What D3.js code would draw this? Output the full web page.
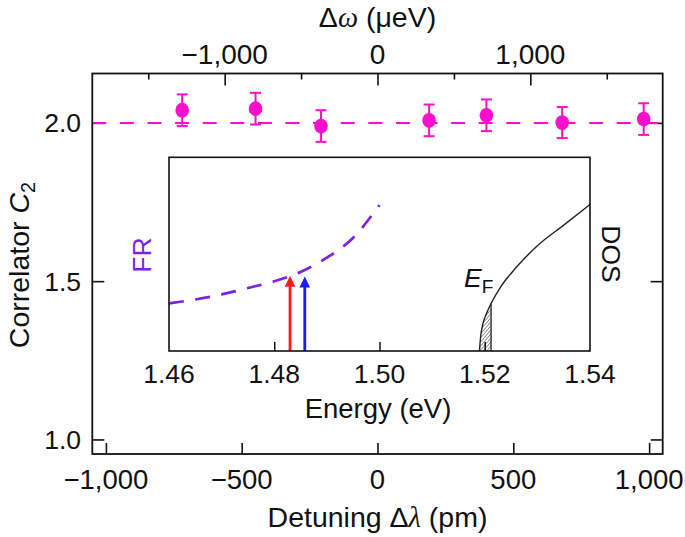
<!DOCTYPE html>
<html><head><meta charset="utf-8">
<script src="https://cdn.jsdelivr.net/npm/d3@7"></script>
<style>
body{margin:0;background:#fff}
svg{display:block}
text{font-family:"Liberation Sans",Arial,Helvetica,sans-serif;fill:#111}
</style>
</head><body><div id="chart"></div>
<script>
// ---------- data ----------
const detuningTicks = [-1000, -500, 0, 500, 1000];
const energyMajorTicks = [-1000, 0, 1000];
const energyMinorTicks = [-1500, -500, 500, 1500];
const c2Ticks = [1.0, 1.5, 2.0];
const detuning = [-719, -449, -208, 190, 401, 680, 980];
const c2 = [2.040, 2.045, 1.990, 2.008, 2.024, 2.001, 2.012];
const c2Err = [0.050, 0.050, 0.050, 0.050, 0.050, 0.049, 0.050];
const c2Reference = 2.0;

const insetTicks = [1.46, 1.48, 1.50, 1.52, 1.54];
const frEnergy = [1.460, 1.465, 1.470, 1.475, 1.480, 1.485, 1.490, 1.495, 1.500];
const frValue  = [0.246, 0.266, 0.292, 0.325, 0.360, 0.408, 0.482, 0.585, 0.754];
const dosEnergy = [1.5190, 1.5192, 1.5196, 1.5202, 1.5212, 1.5230, 1.5260, 1.5300, 1.5350, 1.5400];
const dosValue  = [0.000, 0.070, 0.135, 0.185, 0.245, 0.330, 0.432, 0.543, 0.650, 0.756];
const fermiEnergy = 1.5212;
const pumpEnergy = [1.4830, 1.4858];
const pumpTop = [0.388, 0.384];
const pumpColor = ["#ff1a1a", "#1a1aff"];

// ---------- layout ----------
const W = 685, H = 537;
const pink = "#fb0fcc", purple = "#7c22e4", ink = "#111";

const svg = d3.select("#chart").append("svg").attr("width", W).attr("height", H);

const x = d3.scaleLinear().domain([-1050, 1050]).range([92.3, 662.7]);
const xTop = d3.scaleLinear().domain([-1866, 1866]).range([92.3, 662.7]);
const y = d3.scaleLinear().domain([0.954, 2.156]).range([454, 73.5]);

const xi = d3.scaleLinear().domain([1.46, 1.54]).range([169, 590]);
const yi = d3.scaleLinear().domain([0, 1]).range([351, 157.3]);

function label(parent, px, py, str, anchor, size, rot) {
  const t = parent.append("text")
    .attr("transform", `translate(${px},${py})` + (rot ? ` rotate(${rot})` : ""))
    .attr("text-anchor", anchor || "middle")
    .style("font-size", size + "px");
  if (str !== null) t.text(str);
  return t;
}

// ---------- main frame & axes ----------
const [x0, x1] = x.range();
const [yb, yt] = y.range();

function ticksOnly(g) {
  g.select(".domain").remove();
  g.selectAll("line").attr("stroke", ink).attr("stroke-width", 1.6);
}
svg.append("g").attr("transform", `translate(0,${yb})`)
  .call(d3.axisBottom(x).tickValues(detuningTicks).tickSizeInner(-11).tickSizeOuter(0).tickFormat(""))
  .call(ticksOnly);
svg.append("g").attr("transform", `translate(0,${yt})`)
  .call(d3.axisTop(xTop).tickValues(energyMajorTicks).tickSizeInner(-12).tickSizeOuter(0).tickFormat(""))
  .call(ticksOnly);
svg.append("g").attr("transform", `translate(0,${yt})`)
  .call(d3.axisTop(xTop).tickValues(energyMinorTicks).tickSizeInner(-6).tickSizeOuter(0).tickFormat(""))
  .call(ticksOnly);
svg.append("g").attr("transform", `translate(${x0},0)`)
  .call(d3.axisLeft(y).tickValues(c2Ticks).tickSizeInner(-12).tickSizeOuter(0).tickFormat(""))
  .call(ticksOnly);
svg.append("g").attr("transform", `translate(${x1},0)`)
  .call(d3.axisRight(y).tickValues(c2Ticks).tickSizeInner(-12).tickSizeOuter(0).tickFormat(""))
  .call(ticksOnly);

// tick labels
const fmtK = d3.format(",");
detuningTicks.forEach(v => label(svg, x(v), 489, fmtK(v), "middle", 27.5));
energyMajorTicks.forEach(v => label(svg, xTop(v), 64, fmtK(v), "middle", 28));
c2Ticks.forEach(v => label(svg, 81, y(v) + 9.5, d3.format(".1f")(v), "end", 26.5));

// axis titles
const TS = 28.5;
const tTop = label(svg, 377.5, 27, null, "middle", TS);
tTop.append("tspan").text("\u0394");
tTop.append("tspan").text("\u03C9").style("font-family", "'Liberation Serif',serif").style("font-style", "italic");
tTop.append("tspan").text(" (\u03BCeV)");

const tBot = label(svg, 377.5, 527, null, "middle", TS);
tBot.append("tspan").text("Detuning \u0394");
tBot.append("tspan").text("\u03BB").style("font-family", "'Liberation Serif',serif").style("font-style", "italic");
tBot.append("tspan").text(" (pm)");

const tLeft = label(svg, 29, 265, null, "middle", TS, -90);
tLeft.append("tspan").text("Correlator ");
tLeft.append("tspan").text("C").style("font-style", "italic");
tLeft.append("tspan").text("2").attr("dy", 6).style("font-size", (TS * 0.7) + "px");

// ---------- reference line & data ----------
svg.append("line")
  .attr("x1", x0).attr("x2", x1).attr("y1", y(c2Reference)).attr("y2", y(c2Reference))
  .attr("stroke", pink).attr("stroke-width", 2).attr("stroke-dasharray", "14,13.6");

const pts = svg.append("g").selectAll("g").data(detuning.map((d, i) => ({d, v: c2[i], e: c2Err[i]})))
  .join("g").attr("stroke", pink).attr("stroke-width", 2);
pts.append("line").attr("x1", p => x(p.d)).attr("x2", p => x(p.d))
  .attr("y1", p => y(p.v - p.e)).attr("y2", p => y(p.v + p.e));
pts.append("line").attr("x1", p => x(p.d) - 5.5).attr("x2", p => x(p.d) + 5.5)
  .attr("y1", p => y(p.v - p.e)).attr("y2", p => y(p.v - p.e));
pts.append("line").attr("x1", p => x(p.d) - 5.5).attr("x2", p => x(p.d) + 5.5)
  .attr("y1", p => y(p.v + p.e)).attr("y2", p => y(p.v + p.e));
pts.append("ellipse").attr("cx", p => x(p.d)).attr("cy", p => y(p.v))
  .attr("rx", 6.8).attr("ry", 7.4).attr("fill", pink).attr("stroke", "none");

// main frame
svg.append("rect").attr("x", x0).attr("y", yt).attr("width", x1 - x0).attr("height", yb - yt)
  .attr("fill", "none").attr("stroke", ink).attr("stroke-width", 1.8);

// ---------- inset ----------
const inset = svg.append("g");
const defs = svg.append("defs");
const pat = defs.append("pattern").attr("id", "hatch").attr("patternUnits", "userSpaceOnUse")
  .attr("width", 2.6).attr("height", 2.6).attr("patternTransform", "rotate(40)");
pat.append("rect").attr("width", 2.6).attr("height", 2.6).attr("fill", "#fff");
pat.append("line").attr("x1", 0).attr("x2", 0).attr("y1", 0).attr("y2", 2.6)
  .attr("stroke", "#444").attr("stroke-width", 1.1);

const [ix0, ix1] = xi.range();
const [iyb, iyt] = yi.range();
inset.append("rect").attr("x", ix0).attr("y", iyt).attr("width", ix1 - ix0).attr("height", iyb - iyt)
  .attr("fill", "#fff");

// hatched occupied states
const dosData = dosEnergy.map((e, i) => ({e, v: dosValue[i]}));
const filled = dosData.filter(p => p.e <= fermiEnergy + 1e-9);
inset.append("path").datum(filled)
  .attr("d", d3.area().x(p => xi(p.e)).y0(yi(0)).y1(p => yi(p.v)).curve(d3.curveMonotoneX))
  .attr("fill", "url(#hatch)").attr("stroke", "none");
inset.append("line").attr("x1", xi(fermiEnergy)).attr("x2", xi(fermiEnergy))
  .attr("y1", yi(0)).attr("y2", yi(filled[filled.length - 1].v))
  .attr("stroke", "#222").attr("stroke-width", 1.3);

inset.append("path").datum(dosData)
  .attr("d", d3.line().x(p => xi(p.e)).y(p => yi(p.v)).curve(d3.curveMonotoneX))
  .attr("fill", "none").attr("stroke", "#222").attr("stroke-width", 1.4);

// FR curve
const frData = frEnergy.map((e, i) => ({e, v: frValue[i]}));
inset.append("path").datum(frData)
  .attr("d", d3.line().x(p => xi(p.e)).y(p => yi(p.v)).curve(d3.curveMonotoneX))
  .attr("fill", "none").attr("stroke", purple).attr("stroke-width", 2.7).attr("stroke-dasharray", "15,11.5");

// pump arrows
pumpEnergy.forEach((e, i) => {
  const cx = xi(e), top = yi(pumpTop[i]);
  inset.append("line").attr("x1", cx).attr("x2", cx).attr("y1", yi(0)).attr("y2", top + 9)
    .attr("stroke", pumpColor[i]).attr("stroke-width", 2.8);
  inset.append("path").attr("d", `M${cx - 5.3},${top + 11} L${cx},${top} L${cx + 5.3},${top + 11} Z`)
    .attr("fill", pumpColor[i]);
});

// inset ticks
inset.append("g").attr("transform", `translate(0,${iyb})`)
  .call(d3.axisBottom(xi).tickValues(insetTicks.slice(1, -1)).tickSizeInner(-9).tickSizeOuter(0).tickFormat(""))
  .call(g => g.select(".domain").remove())
  .call(g => g.selectAll("line").attr("stroke", ink).attr("stroke-width", 1.5));
insetTicks.forEach(v => label(inset, xi(v), 383, d3.format(".2f")(v), "middle", 26.5));

// inset frame
inset.append("rect").attr("x", ix0).attr("y", iyt).attr("width", ix1 - ix0).attr("height", iyb - iyt)
  .attr("fill", "none").attr("stroke", ink).attr("stroke-width", 1.6);

// inset labels
label(inset, 378, 418, "Energy (eV)", "middle", 27.5);
label(inset, 151, 255, "FR", "middle", 26.5, -90).style("fill", purple);
label(inset, 602, 254, "DOS", "middle", 26.5, 90);
const ef = label(inset, 464, 287, null, "start", 26.5);
ef.append("tspan").text("E").style("font-style", "italic");
ef.append("tspan").text("F").attr("dy", 6).style("font-size", (26.5 * 0.72) + "px");
</script>
</body></html>
